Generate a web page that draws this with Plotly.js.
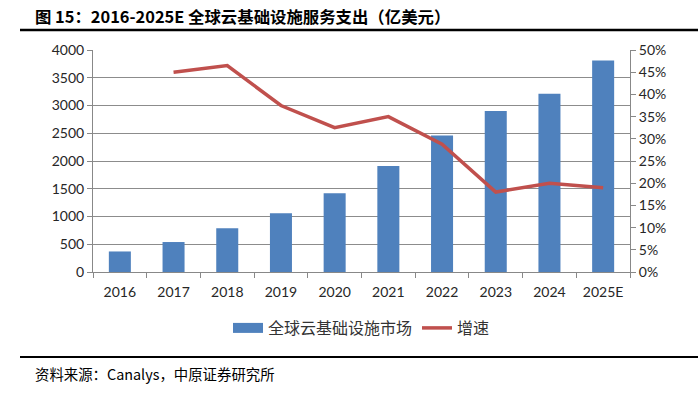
<!DOCTYPE html>
<html><head><meta charset="utf-8">
<script src="https://cdn.plot.ly/plotly-3.0.1.min.js"></script>
<style>html,body{margin:0;padding:0;background:#fff}#c{width:698px;height:393px}</style>
</head><body><div id="c"></div>
<script>
const years = ['2016','2017','2018','2019','2020','2021','2022','2023','2024','2025E'];
const spend = [370, 540, 790, 1060, 1420, 1910, 2460, 2900, 3210, 3810];
const growth = [null, 0.45, 0.465, 0.375, 0.325, 0.35, 0.288, 0.18, 0.20, 0.19];
const leftTicks = [0,500,1000,1500,2000,2500,3000,3500,4000];
const rightTicks = [0,0.05,0.10,0.15,0.20,0.25,0.30,0.35,0.40,0.45,0.50];
const rightLabels = ['0%','5%','10%','15%','20%','25%','30%','35%','40%','45%','50%'];
const barName = '全球云基础设施市场';
const lineName = '增速';

const tickFont = {family:'Lato, "Open Sans", sans-serif', size:14, color:'#262626'};
const cjk = '"Noto Sans CJK SC", sans-serif';
const blue = '#4F81BD', red = '#C0504D';

const traces = [
  {type:'bar', x:years, y:spend, name:barName, marker:{color:blue}, yaxis:'y', showlegend:false},
  {type:'scatter', mode:'lines', x:[years[0]], y:[null], name:barName, line:{color:blue, width:10}, yaxis:'y', showlegend:true, hoverinfo:'skip'},
  {type:'scatter', mode:'lines', x:years, y:growth, name:lineName, line:{color:red, width:3.5}, yaxis:'y2', connectgaps:false}
];

const L = 93, R = 68, T = 50, B = 121;
const layout = {
  width:698, height:393,
  margin:{l:L, r:R, t:T, b:B},
  paper_bgcolor:'#fff', plot_bgcolor:'#fff',
  bargap:0.59,
  showlegend:true,
  legend:{orientation:'h', x:0.5, xanchor:'center', yanchor:'middle', font:{family:cjk, size:16, color:'#333'}, itemwidth:30, tracegroupgap:0},
  xaxis:{type:'category', tickfont:tickFont, showline:true, linecolor:'#888', linewidth:1, ticks:'outside', ticklen:5, tickcolor:'#888', tickson:'boundaries', showgrid:false, automargin:false, ticklabelstandoff:7},
  yaxis:{range:[0,4000], tickvals:leftTicks, tickfont:tickFont, showline:true, linecolor:'#888', ticks:'outside', ticklen:5, tickcolor:'#888', showgrid:true, gridcolor:'#8c8c8c', gridwidth:1, zeroline:false, automargin:false},
  yaxis2:{range:[0,0.5], overlaying:'y', side:'right', tickvals:rightTicks, ticktext:rightLabels, tickfont:tickFont, showline:true, linecolor:'#888', ticks:'outside', ticklen:5, tickcolor:'#888', showgrid:false, zeroline:false, automargin:false},
  annotations:[
    {xref:'paper', yref:'paper', xanchor:'left', yanchor:'middle', showarrow:false,
     text:'<b>图 15：2016-2025E 全球云基础设施服务支出（亿美元）</b>', font:{family:cjk, size:16.4, color:'#000'}},
    {xref:'paper', yref:'paper', xanchor:'left', yanchor:'middle', showarrow:false,
     text:'资料来源：Canalys，中原证券研究所', font:{family:cjk, size:14.4, color:'#000'}}
  ],
  shapes:[]
};

const pw = 698-L-R, ph = 393-T-B;
function px(x){return (x-L)/pw;}
function py(y){return (393-B-y)/ph;}
layout.annotations[0].x = px(33); layout.annotations[0].y = py(16);
layout.annotations[1].x = px(33); layout.annotations[1].y = py(373);
layout.legend.y = py(328);
layout.shapes.push({type:'line', xref:'paper', yref:'paper', x0:px(20), x1:px(698), y0:py(30), y1:py(30), line:{color:'#000', width:2.5}});
layout.shapes.push({type:'line', xref:'paper', yref:'paper', x0:px(20), x1:px(698), y0:py(357), y1:py(357), line:{color:'#000', width:2}});

Plotly.newPlot('c', traces, layout, {displayModeBar:false, staticPlot:true});
</script></body></html>
